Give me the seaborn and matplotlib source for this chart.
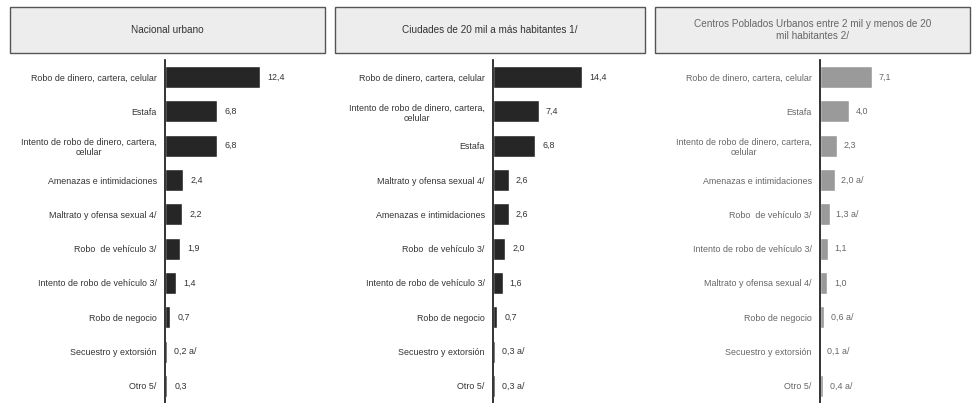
import numpy as np
import pandas as pd
import matplotlib
matplotlib.use('Agg')
import matplotlib.pyplot as plt
from matplotlib.patches import Rectangle
import seaborn as sns

# Data
titles = ['Nacional urbano',
          'Ciudades de 20 mil a más habitantes 1/',
          'Centros Poblados Urbanos entre 2 mil y menos de 20\nmil habitantes 2/']

cats_nacional = ['Robo de dinero, cartera, celular', 'Estafa',
                 'Intento de robo de dinero, cartera,\ncelular',
                 'Amenazas e intimidaciones', 'Maltrato y ofensa sexual 4/',
                 'Robo  de vehículo 3/', 'Intento de robo de vehículo 3/',
                 'Robo de negocio', 'Secuestro y extorsión', 'Otro 5/']
vals_nacional = [12.4, 6.8, 6.8, 2.4, 2.2, 1.9, 1.4, 0.7, 0.2, 0.3]
notes_nacional = ['', '', '', '', '', '', '', '', ' a/', '']

cats_ciudades = ['Robo de dinero, cartera, celular',
                 'Intento de robo de dinero, cartera,\ncelular', 'Estafa',
                 'Maltrato y ofensa sexual 4/', 'Amenazas e intimidaciones',
                 'Robo  de vehículo 3/', 'Intento de robo de vehículo 3/',
                 'Robo de negocio', 'Secuestro y extorsión', 'Otro 5/']
vals_ciudades = [14.4, 7.4, 6.8, 2.6, 2.6, 2.0, 1.6, 0.7, 0.3, 0.3]
notes_ciudades = ['', '', '', '', '', '', '', '', ' a/', ' a/']

cats_centros = ['Robo de dinero, cartera, celular', 'Estafa',
                'Intento de robo de dinero, cartera,\ncelular',
                'Amenazas e intimidaciones', 'Robo  de vehículo 3/',
                'Intento de robo de vehículo 3/', 'Maltrato y ofensa sexual 4/',
                'Robo de negocio', 'Secuestro y extorsión', 'Otro 5/']
vals_centros = [7.1, 4.0, 2.3, 2.0, 1.3, 1.1, 1.0, 0.6, 0.1, 0.4]
notes_centros = ['', '', '', ' a/', ' a/', '', '', ' a/', ' a/', ' a/']

sns.set_style('white')
plt.rcParams['font.family'] = ['Liberation Sans', 'DejaVu Sans']

W, H = 972, 403
fig = plt.figure(figsize=(W / 100, H / 100), dpi=100)

panels = [
    dict(cats=cats_nacional, vals=vals_nacional, notes=notes_nacional,
         ax_px=(165, 325), xmax=20.8, box=(10, 325), color='#262626',
         tcolor='#333333', lcolor='#333333'),
    dict(cats=cats_ciudades, vals=vals_ciudades, notes=notes_ciudades,
         ax_px=(493, 645), xmax=24.5, box=(335, 645), color='#262626',
         tcolor='#333333', lcolor='#333333'),
    dict(cats=cats_centros, vals=vals_centros, notes=notes_centros,
         ax_px=(820, 970), xmax=20.5, box=(655, 970), color='#9a9a9a',
         tcolor='#666666', lcolor='#666666'),
]

top_px, box_top, box_bot = 60, 7, 53

for p, title in zip(panels, titles):
    x0, x1 = p['ax_px']
    ax = fig.add_axes([x0 / W, 0, (x1 - x0) / W, 1 - top_px / H])
    df = pd.DataFrame({'cat': p['cats'], 'val': p['vals']})
    sns.barplot(data=df, x='val', y='cat', orient='h', color=p['color'],
                width=0.64, ax=ax, saturation=1)
    ax.set_xlim(0, p['xmax'])
    ax.set_ylim(len(p['cats']) - 0.5, -0.5)
    ax.set_xlabel('')
    ax.set_ylabel('')
    ax.set_xticks([])
    for s in ['top', 'right', 'bottom']:
        ax.spines[s].set_visible(False)
    ax.spines['left'].set_color('#111111')
    ax.spines['left'].set_linewidth(1.2)
    ax.tick_params(axis='y', length=0, labelsize=6.4, labelcolor=p['lcolor'], pad=6)
    for lab in ax.get_yticklabels():
        lab.set_multialignment('center')
    ax.set_yticks(np.arange(-0.5, len(p['cats']) + 0.5, 1), minor=True)
    ax.tick_params(axis='y', which='minor', length=3, direction='inout',
                   color='#333333', width=0.8)
    for i, (v, n) in enumerate(zip(p['vals'], p['notes'])):
        ax.text(v + p['xmax'] * 0.045, i, f'{v:.1f}'.replace('.', ',') + n,
                va='center', ha='left', fontsize=6.4, color=p['lcolor'])

    bx0, bx1 = p['box']
    fig.patches.append(Rectangle((bx0 / W, 1 - box_bot / H), (bx1 - bx0) / W,
                                 (box_bot - box_top) / H, transform=fig.transFigure,
                                 facecolor='#ededed', edgecolor='#555555',
                                 linewidth=1.0))
    fig.text((bx0 + bx1) / 2 / W, 1 - (box_top + box_bot) / 2 / H, title,
             ha='center', va='center', fontsize=7.2, color=p['tcolor'],
             linespacing=1.3)

fig.savefig('out.png', dpi=100)
